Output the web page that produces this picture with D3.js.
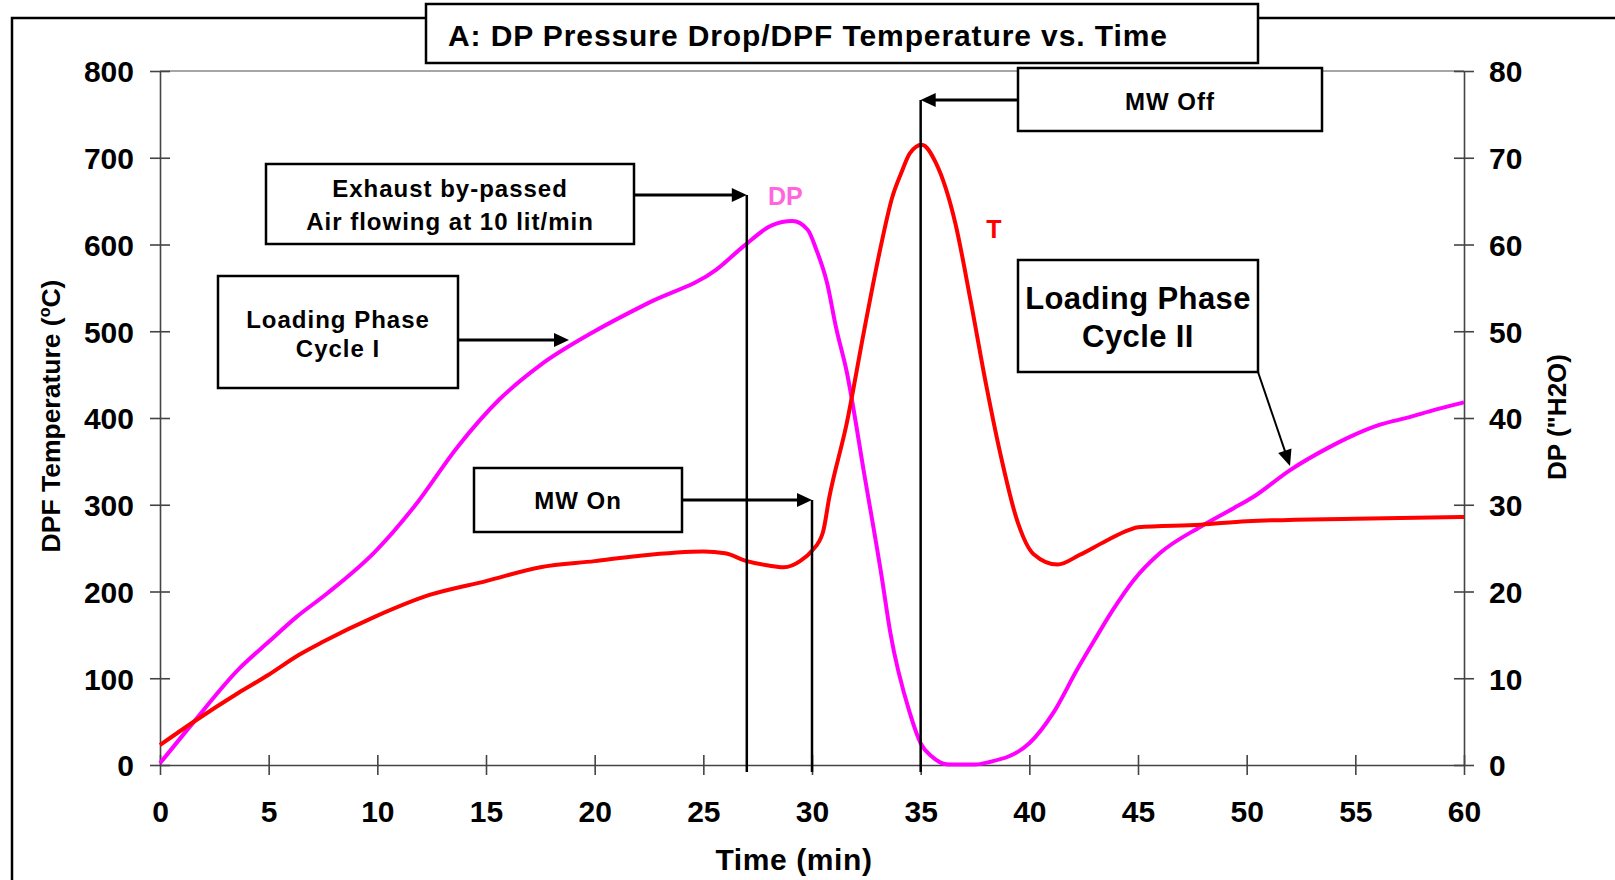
<!DOCTYPE html>
<html>
<head>
<meta charset="utf-8">
<script src="https://cdn.jsdelivr.net/npm/d3@7/dist/d3.min.js"></script>
<style>
  html, body { margin: 0; padding: 0; background: #fff; }
  svg { display: block; font-family: "Liberation Sans", Arial, sans-serif; font-weight: bold; }
</style>
</head>
<body>
<svg id="chart" width="1615" height="880"></svg>
<script>
// DPF temperature (left axis, °C) sampled over time (min)
const tempTime = [0, 1.5, 3.6, 5, 6.4, 7.5, 9.9, 12.4, 15, 17.5, 20, 22, 25, 26, 27, 28, 28.7, 29.5, 30, 30.5, 30.8,
                  31.6, 32.4, 33.1, 33.7, 34.1, 34.5, 35.05, 35.7, 36.6, 37.3, 38, 38.7, 39.4, 40.2, 41.3, 42.3,
                  43.5, 44.6, 45, 47.9, 50, 55, 60];
const tempValues = [23, 49, 83, 104, 127, 142, 171, 196, 212, 228, 235, 241, 246, 244, 235, 230, 228, 236, 247, 268, 309,
                    394, 501, 590, 655, 682, 705, 715, 694, 624, 535, 440, 355, 285, 243, 231, 242,
                    258, 271, 274, 277, 281, 284, 286];

// Pressure drop across the filter (right axis, "H2O)
const dpTime = [0, 1.5, 3.6, 5, 6.3, 7.7, 9.9, 11.7, 13.7, 15.6, 17.5, 20, 22.5, 25.6, 26.9, 28.15, 29.1, 29.8,
                30.2, 30.7, 31.1, 31.6, 32.4, 33.2, 33.6, 34.5, 35, 35.5, 36.3, 37.5, 38.1, 40, 41.1, 42.2, 43,
                43.8, 44.8, 46, 47.9, 49.4, 50.3, 52, 53.7, 54.9, 56.1, 57.5, 58.6, 60];
const dpValues = [0.2, 4.8, 11, 14.2, 17.1, 19.8, 24.6, 29.8, 36.7, 42.1, 46.1, 50, 53.3, 57.1, 59.9, 62.2, 62.7, 61.7,
                  59.4, 55.5, 50.5, 45.3, 33.6, 21.8, 15.3, 6, 2.5, 1, 0.05, 0.05, 0.3, 2.5, 6, 11, 14.4,
                  17.7, 21.3, 24.4, 27.5, 29.6, 30.9, 34, 36.5, 38, 39.2, 40.1, 40.9, 41.8];

// Tick labels
const timeTicks = [0, 5, 10, 15, 20, 25, 30, 35, 40, 45, 50, 55, 60];
const tempTicks = [0, 100, 200, 300, 400, 500, 600, 700, 800];
const dpTicks = [0, 10, 20, 30, 40, 50, 60, 70, 80];

// Event markers: by-pass, microwave on, microwave off (min)
const bypassTime = 27;
const mwOnTime = 30;
const mwOffTime = 35;

const svg = d3.select("#chart");
const plotLeft = 160, plotRight = 1464, plotTop = 71, plotBottom = 765;

const x = d3.scaleLinear().domain([0, 60]).range([plotLeft, plotRight]);
const yT = d3.scaleLinear().domain([0, 800]).range([plotBottom, plotTop]);
const yDP = d3.scaleLinear().domain([0, 80]).range([plotBottom, plotTop]);

svg.append("rect").attr("width", 1615).attr("height", 880).attr("fill", "#fff");

// outer frame (extends beyond the page on the right and bottom)
svg.append("path").attr("d", "M12,900 L12,18 L1700,18")
  .attr("fill", "none").attr("stroke", "#000").attr("stroke-width", 2.5);

// plot area top edge
svg.append("line").attr("x1", plotLeft).attr("x2", plotRight).attr("y1", plotTop).attr("y2", plotTop)
  .attr("stroke", "#888").attr("stroke-width", 1.5);

// axes
const tickStyle = g => {
  g.select(".domain").attr("stroke", "#444").attr("stroke-width", 1.6);
  g.selectAll(".tick line").attr("stroke", "#444").attr("stroke-width", 1.6);
  g.selectAll(".tick text").attr("fill", "#000").attr("font-size", 30)
    .attr("font-family", "'Liberation Sans', Arial, sans-serif").attr("font-weight", "bold");
};

const xAxis = svg.append("g").attr("transform", `translate(0,${plotBottom})`)
  .call(d3.axisBottom(x).tickValues(timeTicks).tickSize(10).tickSizeOuter(0).tickPadding(0));
tickStyle(xAxis);
xAxis.selectAll(".tick line").attr("y1", -10).attr("y2", 10);
xAxis.selectAll(".tick text").attr("y", 57).attr("dy", null);

const yAxisL = svg.append("g").attr("transform", `translate(${plotLeft},0)`)
  .call(d3.axisLeft(yT).tickValues(tempTicks).tickSize(10).tickSizeOuter(0).tickPadding(0));
tickStyle(yAxisL);
yAxisL.selectAll(".tick line").attr("x1", -10).attr("x2", 10);
yAxisL.selectAll(".tick text").attr("x", -26).attr("dy", "0.36em");

const yAxisR = svg.append("g").attr("transform", `translate(${plotRight},0)`)
  .call(d3.axisRight(yDP).tickValues(dpTicks).tickSize(10).tickSizeOuter(0).tickPadding(0));
tickStyle(yAxisR);
yAxisR.selectAll(".tick line").attr("x1", -10).attr("x2", 10);
yAxisR.selectAll(".tick text").attr("x", 25).attr("dy", "0.36em");

// axis titles
svg.append("text").attr("x", 794).attr("y", 870).attr("text-anchor", "middle")
  .attr("font-size", 30).attr("letter-spacing", 0.6).text("Time (min)");

const leftTitle = svg.append("text").attr("transform", "translate(60,416) rotate(-90)")
  .attr("text-anchor", "middle").attr("font-size", 26.5);
leftTitle.append("tspan").text("DPF Temperature (");
leftTitle.append("tspan").attr("font-size", 16).attr("dy", -10).text("o");
leftTitle.append("tspan").attr("dy", 10).text("C)");

svg.append("text").attr("transform", "translate(1566,417) rotate(-90)")
  .attr("text-anchor", "middle").attr("font-size", 26).text("DP (\"H2O)");

// curves
const tempLine = d3.line().x((d, i) => x(tempTime[i])).y(d => yT(d)).curve(d3.curveMonotoneX);
const dpLine = d3.line().x((d, i) => x(dpTime[i])).y(d => yDP(d)).curve(d3.curveMonotoneX);

svg.append("path").attr("d", dpLine(dpValues)).attr("fill", "none")
  .attr("stroke", "#ff00ff").attr("stroke-width", 4).attr("stroke-linejoin", "round");
svg.append("path").attr("d", tempLine(tempValues)).attr("fill", "none")
  .attr("stroke", "#ff0000").attr("stroke-width", 4).attr("stroke-linejoin", "round");

// series labels
svg.append("text").attr("x", 768).attr("y", 205).attr("font-size", 25).attr("fill", "#ff66dd").text("DP");
svg.append("text").attr("x", 994).attr("y", 238).attr("text-anchor", "middle").attr("font-size", 25)
  .attr("fill", "#ff0000").text("T");

// annotations
const ann = svg.append("g");

function arrowHead(tipX, tipY, angle, len = 15, half = 7) {
  const a = angle;
  const bx = tipX - len * Math.cos(a), by = tipY - len * Math.sin(a);
  const px = -Math.sin(a) * half, py = Math.cos(a) * half;
  ann.append("path")
    .attr("d", `M${tipX},${tipY} L${bx + px},${by + py} L${bx - px},${by - py} Z`)
    .attr("fill", "#000");
}

function box(x0, y0, x1, y1, lines, size, spacing, baselines) {
  ann.append("rect").attr("x", x0).attr("y", y0).attr("width", x1 - x0).attr("height", y1 - y0)
    .attr("fill", "#fff").attr("stroke", "#000").attr("stroke-width", 2.5);
  lines.forEach((t, i) => {
    ann.append("text").attr("x", (x0 + x1) / 2).attr("y", baselines[i]).attr("text-anchor", "middle")
      .attr("font-size", size).attr("letter-spacing", spacing).text(t);
  });
}

function hLine(x0, x1, y, w) {
  ann.append("line").attr("x1", x0).attr("x2", x1).attr("y1", y).attr("y2", y)
    .attr("stroke", "#000").attr("stroke-width", w);
}
function vLine(xv, y0, y1) {
  ann.append("line").attr("x1", xv).attr("x2", xv).attr("y1", y0).attr("y2", y1)
    .attr("stroke", "#000").attr("stroke-width", 2.5);
}

// by-pass marker
const xb = x(bypassTime);
hLine(634, xb - 6, 195, 3);
arrowHead(xb, 195, 0);
vLine(xb, 195, 772);
box(266, 164, 634, 244, ["Exhaust by-passed", "Air flowing at 10 lit/min"], 24, 1, [197, 230]);

// microwave on
const xon = x(mwOnTime);
hLine(682, xon - 6, 500, 3);
arrowHead(xon, 500, 0);
vLine(xon, 500, 772);
box(474, 468, 682, 532, ["MW On"], 24, 1, [509]);

// microwave off
const xoff = x(mwOffTime);
hLine(xoff + 6, 1018, 100, 3);
arrowHead(xoff, 100, Math.PI);
vLine(xoff, 100, 772);
box(1018, 68, 1322, 131, ["MW Off"], 24, 1, [110]);

// loading phase, cycle I
hLine(458, 562, 340, 3);
arrowHead(569, 340, 0);
box(218, 276, 458, 388, ["Loading Phase", "Cycle I"], 24, 1, [328, 357]);

// loading phase, cycle II
const ang = Math.atan2(466 - 372, 1290 - 1258);
ann.append("line").attr("x1", 1258).attr("y1", 372)
  .attr("x2", 1290 - 8 * Math.cos(ang)).attr("y2", 466 - 8 * Math.sin(ang))
  .attr("stroke", "#000").attr("stroke-width", 2);
arrowHead(1290, 466, ang, 16, 7);
box(1018, 260, 1258, 372, ["Loading Phase", "Cycle II"], 31, 0.4, [309, 347]);

// title
svg.append("rect").attr("x", 426).attr("y", 4).attr("width", 832).attr("height", 59)
  .attr("fill", "#fff").attr("stroke", "#000").attr("stroke-width", 2.5);
svg.append("text").attr("x", 448).attr("y", 45.5).attr("font-size", 30).attr("letter-spacing", 0.9)
  .text("A: DP Pressure Drop/DPF Temperature vs. Time");
</script>
</body>
</html>
